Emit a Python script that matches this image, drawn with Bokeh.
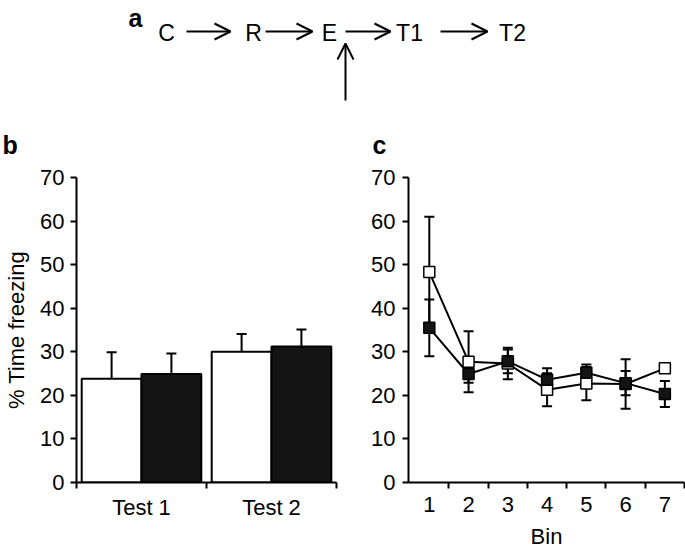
from bokeh.plotting import figure
from bokeh.models import (Range1d, FixedTicker, Whisker, ColumnDataSource, Arrow,
                          OpenHead, TeeHead)
from bokeh.layouts import column, row
from bokeh.embed import file_html
from bokeh.resources import INLINE
from bokeh.core.properties import value

FONT = "Liberation Sans"

# ---------------- data ----------------
# panel a: schematic
stages = ["C", "R", "E", "T1", "T2"]

# panel b: % time freezing per test
tests = ["Test 1", "Test 2"]
open_means = [23.8, 30.0]
open_errs = [6.1, 4.1]
filled_means = [24.9, 31.2]
filled_errs = [4.7, 3.9]
y_ticks = [0, 10, 20, 30, 40, 50, 60, 70]

# panel c: per bin
bins = [1, 2, 3, 4, 5, 6, 7]
open_c = [48.3, 27.7, 27.3, 21.3, 22.7, 22.6, 26.2]
open_c_err = [12.7, 7.0, 3.6, 3.8, 3.8, 5.7, 0.8]
filled_c = [35.5, 24.9, 27.8, 23.6, 25.2, 22.8, 20.3]
filled_c_err = [6.5, 2.0, 2.7, 2.6, 1.9, 2.8, 3.0]

# ---------------- panel a (schematic) ----------------
TOP_H = 160
pa = figure(width=685, height=TOP_H, output_backend="svg", toolbar_location=None,
            x_range=Range1d(0, 685), y_range=Range1d(TOP_H, 0),
            x_axis_type=None, y_axis_type=None,
            min_border=0, min_border_left=0, min_border_right=0,
            min_border_top=0, min_border_bottom=0)
pa.outline_line_color = None
pa.grid.visible = False

stage_x = [166, 253, 329, 409, 512]
stage_src = ColumnDataSource(dict(x=stage_x, y=[32] * len(stages), t=stages))
pa.text(x="x", y="y", text="t", source=stage_src, text_font=value(FONT),
        text_font_size="23px", text_align="center", text_baseline="middle",
        text_color="black")

arr_src = ColumnDataSource(dict(x0=[186, 265, 345, 440, 345],
                                x1=[230, 312, 390, 487, 345],
                                y0=[31, 31, 31, 31, 100],
                                y1=[31, 31, 31, 31, 43]))
pa.add_layout(Arrow(end=OpenHead(size=16, line_width=2, line_color="black"),
                    x_start="x0", y_start="y0", x_end="x1", y_end="y1",
                    line_width=2, line_color="black", source=arr_src))

lab_src = ColumnDataSource(dict(x=[128, 2, 372], y=[17, 144, 144],
                                t=["a", "b", "c"]))
pa.text(x="x", y="y", text="t", source=lab_src, text_font=value(FONT),
        text_font_size="25px", text_font_style="bold", text_align="left",
        text_baseline="alphabetic", text_color="black")


def style_axes(p):
    for ax in list(p.xaxis) + list(p.yaxis):
        ax.axis_line_width = 2
        ax.axis_line_color = "black"
        ax.major_tick_line_width = 2
        ax.minor_tick_line_width = 2
        ax.major_tick_line_color = "black"
        ax.minor_tick_line_color = "black"
        ax.major_label_text_font = FONT
        ax.major_label_text_font_size = "22px"
        ax.major_label_text_color = "black"
        ax.axis_label_text_font = FONT
        ax.axis_label_text_font_size = "22px"
        ax.axis_label_text_font_style = "normal"
        ax.axis_label_text_color = "black"
    p.grid.visible = False
    p.outline_line_color = None


ROW_H = 551 - TOP_H

# ---------------- panel b (bars) ----------------
pb = figure(width=360, height=ROW_H, output_backend="svg", toolbar_location=None,
            x_range=Range1d(0, 2), y_range=Range1d(0, 70),
            min_border_left=76, min_border_right=24,
            min_border_top=15, min_border_bottom=ROW_H - 15 - 307)
style_axes(pb)
yb = pb.yaxis[0]
yb.ticker = FixedTicker(ticks=y_ticks, minor_ticks=[])
yb.major_tick_out = 6
yb.major_tick_in = 0
yb.major_label_standoff = 6
yb.axis_label = "% Time freezing"
yb.axis_label_standoff = 8
xb = pb.xaxis[0]
xb.ticker = FixedTicker(ticks=[0.5, 1.5], minor_ticks=[0, 1, 2])
xb.major_tick_out = 0
xb.major_tick_in = 0
xb.minor_tick_out = 6
xb.minor_tick_in = 0
xb.major_label_standoff = 6
xb.major_label_overrides = {0.5: tests[0], 1.5: tests[1]}

idx = list(range(len(tests)))
bsrc_open = ColumnDataSource(dict(x=[i + 0.27 for i in idx], top=open_means,
                                  up=[m + e for m, e in zip(open_means, open_errs)]))
bsrc_fill = ColumnDataSource(dict(x=[i + 0.73 for i in idx], top=filled_means,
                                  up=[m + e for m, e in zip(filled_means, filled_errs)]))
for src, fill in ((bsrc_open, "white"), (bsrc_fill, "#141414")):
    pb.add_layout(Whisker(source=src, base="x", lower="top", upper="up",
                          dimension="height", line_width=2, line_color="black",
                          lower_head=None,
                          upper_head=TeeHead(size=10, line_width=2, line_color="black")))
    pb.vbar(x="x", top="top", bottom=0, width=0.46, source=src,
            fill_color=fill, line_color="black", line_width=2)

# ---------------- panel c (lines) ----------------
pc = figure(width=325, height=ROW_H, output_backend="svg", toolbar_location=None,
            x_range=Range1d(0.47, 7.5), y_range=Range1d(0, 70),
            min_border_left=48, min_border_right=1,
            min_border_top=17, min_border_bottom=ROW_H - 17 - 307)
style_axes(pc)
yc = pc.yaxis[0]
yc.ticker = FixedTicker(ticks=y_ticks, minor_ticks=[])
yc.major_tick_out = 6
yc.major_tick_in = 0
yc.major_label_standoff = 7
xc = pc.xaxis[0]
xc.ticker = FixedTicker(ticks=bins, minor_ticks=[b + 0.5 for b in bins])
xc.major_tick_out = 0
xc.major_tick_in = 0
xc.minor_tick_out = 6
xc.minor_tick_in = 0
xc.major_label_standoff = 8
xc.axis_label = "Bin"
xc.axis_label_standoff = 9

csrc_open = ColumnDataSource(dict(x=bins, y=open_c,
                                  lo=[m - e for m, e in zip(open_c, open_c_err)],
                                  hi=[m + e for m, e in zip(open_c, open_c_err)]))
csrc_fill = ColumnDataSource(dict(x=bins, y=filled_c,
                                  lo=[m - e for m, e in zip(filled_c, filled_c_err)],
                                  hi=[m + e for m, e in zip(filled_c, filled_c_err)]))
for src in (csrc_open, csrc_fill):
    pc.add_layout(Whisker(source=src, base="x", lower="lo", upper="hi",
                          dimension="height", line_width=2, line_color="black",
                          level="underlay",
                          lower_head=TeeHead(size=10, line_width=2, line_color="black"),
                          upper_head=TeeHead(size=10, line_width=2, line_color="black")))
for src, fill in ((csrc_open, "white"), (csrc_fill, "#141414")):
    pc.line(x="x", y="y", source=src, line_color="black", line_width=2)
    pc.scatter(x="x", y="y", source=src, marker="square", size=11,
               fill_color=fill, line_color="black", line_width=1.5)

layout = column(pa, row(pb, pc))
open("out.html", "w").write(file_html(layout, INLINE))
